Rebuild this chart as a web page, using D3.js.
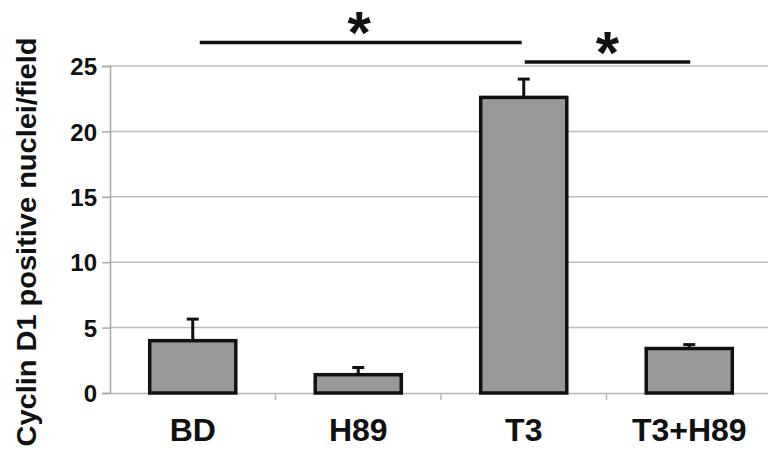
<!DOCTYPE html>
<html>
<head>
<meta charset="utf-8">
<script src="https://cdn.jsdelivr.net/npm/d3@7"></script>
<style>
  body { margin: 0; background: #fff; }
  svg { display: block; font-family: Arial, "Liberation Sans", sans-serif; }
</style>
</head>
<body>
<script>
// data
let categories = ['BD', 'H89', 'T3', 'T3+H89'];
let means = [4.0, 1.4, 22.6, 3.4];
let errors = [1.65, 0.55, 1.4, 0.3];
let yTicks = [0, 5, 10, 15, 20, 25];
// significance brackets: [from category, to category, height in y units]
let sigFrom = ['BD', 'T3'];
let sigTo = ['T3', 'T3+H89'];
let sigLevel = [26.8, 25.3];

let width = 768, height = 463;
let margin = { left: 110, right: -4, top: 66, bottom: 70 };

let svg = d3.select('body')
    .append('svg')
        .attr('width', width)
        .attr('height', height);

let x = d3.scaleBand()
    .domain(categories)
    .range([margin.left, width - margin.right])
    .paddingInner(0.48)
    .paddingOuter(0.24);

let y = d3.scaleLinear()
    .domain([0, 25])
    .range([height - margin.bottom, margin.top]);

// ============================================ GRID ===================================================================
svg.append('g')
    .selectAll('line')
    .data(yTicks.slice(1)).enter()
    .append('line')
        .attr('x1', margin.left)
        .attr('x2', width)
        .attr('y1', d => y(d))
        .attr('y2', d => y(d))
        .attr('stroke', '#bdbdbd')
        .attr('stroke-width', 1.5);

// ============================================ AXES ===================================================================
let yAxis = svg.append('g')
    .attr('transform', 'translate(' + margin.left + ',0)')
    .call(d3.axisLeft(y).tickValues(yTicks).tickSize(8).tickPadding(5));

yAxis.select('.domain').attr('stroke', '#a8a8a8').attr('stroke-width', 1.5);
yAxis.selectAll('.tick line').attr('stroke', '#a8a8a8').attr('stroke-width', 1.5);
yAxis.selectAll('.tick text')
    .attr('font-size', 24)
    .attr('font-weight', 'bold')
    .attr('fill', '#111')
    .attr('dy', '0.36em');

let xAxis = svg.append('g')
    .attr('transform', 'translate(0,' + y(0) + ')')
    .call(d3.axisBottom(x).tickSize(0).tickPadding(25));

xAxis.select('.domain').attr('stroke', '#b5b5b5').attr('stroke-width', 1.5);
xAxis.selectAll('.tick text')
    .attr('font-size', 32)
    .attr('font-weight', 'bold')
    .attr('fill', '#111');

// little category separators below the axis
let step = x.step();
svg.append('g')
    .selectAll('line')
    .data(categories.slice(1)).enter()
    .append('line')
        .attr('x1', d => x(d) - step * x.paddingInner() / 2)
        .attr('x2', d => x(d) - step * x.paddingInner() / 2)
        .attr('y1', y(0))
        .attr('y2', y(0) + 7)
        .attr('stroke', '#b5b5b5')
        .attr('stroke-width', 1.5);

// ============================================ BARS ===================================================================
svg.append('g')
    .selectAll('rect')
    .data(categories).enter()
    .append('rect')
        .attr('x', d => x(d))
        .attr('width', x.bandwidth())
        .attr('y', (d, i) => y(means[i]))
        .attr('height', (d, i) => y(0) - y(means[i]))
        .attr('fill', '#999999')
        .attr('stroke', '#111')
        .attr('stroke-width', 3.5);

// upper error bars
let err = svg.append('g').attr('stroke', '#111').attr('stroke-width', 3);
err.selectAll('line.stem')
    .data(categories).enter()
    .append('line')
        .attr('class', 'stem')
        .attr('x1', d => x(d) + x.bandwidth() / 2)
        .attr('x2', d => x(d) + x.bandwidth() / 2)
        .attr('y1', (d, i) => y(means[i]))
        .attr('y2', (d, i) => y(means[i] + errors[i]));
err.selectAll('line.cap')
    .data(categories).enter()
    .append('line')
        .attr('class', 'cap')
        .attr('x1', d => x(d) + x.bandwidth() / 2 - 6)
        .attr('x2', d => x(d) + x.bandwidth() / 2 + 6)
        .attr('y1', (d, i) => y(means[i] + errors[i]))
        .attr('y2', (d, i) => y(means[i] + errors[i]));

// ============================================ SIGNIFICANCE ===========================================================
let startNudge = [7, 1], endNudge = [-2, 1];
let sig = svg.append('g');
sig.selectAll('line')
    .data(sigFrom).enter()
    .append('line')
        .attr('x1', (d, i) => x(d) + x.bandwidth() / 2 + startNudge[i])
        .attr('x2', (d, i) => x(sigTo[i]) + x.bandwidth() / 2 + endNudge[i])
        .attr('y1', (d, i) => y(sigLevel[i]))
        .attr('y2', (d, i) => y(sigLevel[i]))
        .attr('stroke', '#111')
        .attr('stroke-width', 3.5);
sig.selectAll('text')
    .data(sigFrom).enter()
    .append('text')
        .attr('x', (d, i) => (x(d) + x(sigTo[i]) + x.bandwidth()) / 2 + 1)
        .attr('y', (d, i) => y(sigLevel[i]) + 11)
        .attr('text-anchor', 'middle')
        .attr('font-size', 60)
        .attr('font-weight', 'bold')
        .attr('fill', '#111')
        .text('*');

// ============================================ TITLE ==================================================================
svg.append('text')
    .attr('transform', 'translate(36,' + 242 + ') rotate(-90)')
    .attr('text-anchor', 'middle')
    .attr('font-size', 27)
    .attr('font-weight', 'bold')
    .attr('fill', '#111')
    .attr('textLength', 409)
    .attr('lengthAdjust', 'spacingAndGlyphs')
    .text('Cyclin D1 positive nuclei/field');
</script>
</body>
</html>
